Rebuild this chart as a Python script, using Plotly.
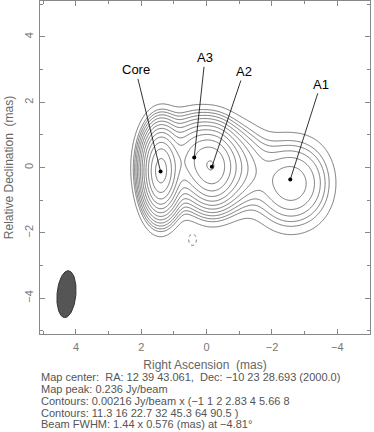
import numpy as np
import plotly.graph_objects as go

# ---- data -------------------------------------------------------------
base_level = 0.00216            # Jy/beam
level_mult = [-1, 1, 2, 2.83, 4, 5.66, 8, 11.3, 16, 22.7, 32, 45.3, 64, 90.5]

# image-plane (beam-convolved) Gaussian components, peaks in units of base_level
comp_names  = ["Core", "CoreJet", "A3", "A2", "A2broad", "A1", "A1ext", "Neg"]
comp_x      = [1.41, 1.0, 0.38, -0.16, -0.35, -2.56, -3.3, 0.43]
comp_y      = [-0.12, 0.2, 0.4, 0.05, 0.0, -0.5, -0.4, -2.2]
comp_peak   = [98.0, 10.0, 14.0, 40.0, 22.0, 10.0, 0.8, -2.0]
comp_fwhm_x = [0.68, 1.2, 0.8, 0.9, 1.7, 1.45, 1.0, 0.25]
comp_fwhm_y = [1.55, 1.6, 1.35, 1.5, 1.55, 1.7, 1.8, 0.38]

labels      = ["Core", "A3", "A2", "A1"]
label_x     = [2.17, 0.05, -1.14, -3.49]
label_y     = [2.99, 3.36, 2.94, 2.55]
spot_x      = [1.41, 0.38, -0.16, -2.56]
spot_y      = [-0.12, 0.31, 0.02, -0.37]

beam_x, beam_y = 4.29, -3.88
beam_maj, beam_min, beam_pa = 1.44, 0.576, -4.81

info_lines = [
    "Map center:  RA: 12 39 43.061,  Dec: \u221210 23 28.693 (2000.0)",
    "Map peak: 0.236 Jy/beam",
    "Contours: 0.00216 Jy/beam x (\u22121 1 2 2.83 4 5.66 8",
    "Contours: 11.3 16 22.7 32 45.3 64 90.5 )",
    "Beam FWHM: 1.44 x 0.576 (mas) at \u22124.81\u00b0",
]
info_y = [-0.13, -0.166, -0.2015, -0.236, -0.2715]

# ---- field ------------------------------------------------------------
gx = np.linspace(-5.0, 5.1, 405)
gy = np.linspace(-5.1, 5.1, 409)
X, Y = np.meshgrid(gx, gy)
F = np.zeros_like(X)
k = 1.0 / (2.0 * np.sqrt(2.0 * np.log(2.0)))
for cx, cy, p, fx, fy in zip(comp_x, comp_y, comp_peak, comp_fwhm_x, comp_fwhm_y):
    sx, sy = fx * k, fy * k
    F += p * np.exp(-((X - cx) ** 2) / (2 * sx ** 2) - ((Y - cy) ** 2) / (2 * sy ** 2))

L = np.log2(np.clip(F, 1e-6, None))
pos_log = np.log2([m for m in level_mult if m > 0])

fig = go.Figure()
line_col = "#555555"
fig.add_trace(go.Contour(x=gx, y=gy, z=L, autocontour=False,
    contours=dict(start=float(pos_log[0]), end=float(pos_log[0]) + 0.1, size=10, coloring="none"),
    line=dict(color=line_col, width=0.8), showscale=False, hoverinfo="skip"))
fig.add_trace(go.Contour(x=gx, y=gy, z=L, autocontour=False,
    contours=dict(start=float(pos_log[1]), end=float(pos_log[-1]) + 0.01, size=0.5, coloring="none"),
    line=dict(color=line_col, width=0.8), showscale=False, hoverinfo="skip"))
fig.add_trace(go.Contour(x=gx, y=gy, z=F, autocontour=False,
    contours=dict(start=level_mult[0], end=level_mult[0] + 0.1, size=10, coloring="none"),
    line=dict(color=line_col, width=0.8, dash="dot"), showscale=False, hoverinfo="skip"))

fig.add_trace(go.Scatter(x=spot_x, y=spot_y, mode="markers",
    marker=dict(color="black", size=4), hoverinfo="skip", showlegend=False))

t = np.linspace(0, 2 * np.pi, 100)
a, b = beam_maj / 2, beam_min / 2
th = np.deg2rad(beam_pa)
ex = b * np.cos(t)
ey = a * np.sin(t)
bx = beam_x + ex * np.cos(th) + ey * np.sin(th)
by = beam_y - ex * np.sin(th) + ey * np.cos(th)
fig.add_trace(go.Scatter(x=bx, y=by, mode="lines", fill="toself",
    fillcolor="#555555", line=dict(color="#333333", width=1),
    hoverinfo="skip", showlegend=False))

for lab, lx, ly, sx_, sy_ in zip(labels, label_x, label_y, spot_x, spot_y):
    fig.add_annotation(x=sx_, y=sy_, ax=lx, ay=ly, axref="x", ayref="y",
        text=lab, showarrow=True, arrowhead=0, arrowwidth=0.8, arrowcolor="black",
        font=dict(family="Liberation Sans, Arial", size=13, color="black"))

for line, yy in zip(info_lines, info_y):
    fig.add_annotation(xref="paper", yref="paper", x=-0.003, y=yy,
        xanchor="left", yanchor="middle", align="left", showarrow=False,
        text=line, font=dict(family="Liberation Sans, Arial", size=11, color="#555555"))

axcol = "#888888"
common = dict(showgrid=False, zeroline=False, showline=True, mirror="ticks",
              linecolor=axcol, linewidth=1, ticks="inside", ticklen=5,
              tickcolor=axcol, tickwidth=1, dtick=2, tick0=0, automargin=False,
              minor=dict(dtick=1, ticks="inside", ticklen=3, tickcolor=axcol),
              tickfont=dict(family="Liberation Sans, Arial", size=11, color="#777777"))
fig.update_layout(
    width=374, height=432,
    margin=dict(l=40, r=4, t=1, b=98),
    paper_bgcolor="white", plot_bgcolor="white",
    showlegend=False,
    xaxis=dict(range=[5.1, -5.0], ticklabelstandoff=3,
               title=dict(text="Right Ascension  (mas)",
               font=dict(family="Liberation Sans, Arial", size=12, color="#666666"), standoff=8),
               **common),
    yaxis=dict(range=[-5.1, 5.1], tickangle=-90, ticklabelstandoff=2,
               title=dict(text="Relative Declination  (mas)",
               font=dict(family="Liberation Sans, Arial", size=12, color="#666666"), standoff=6),
               **common),
)
fig.write_html("out.html", config={"displayModeBar": False},
               post_script="document.body.style.margin='0';document.body.style.overflow='hidden';")
